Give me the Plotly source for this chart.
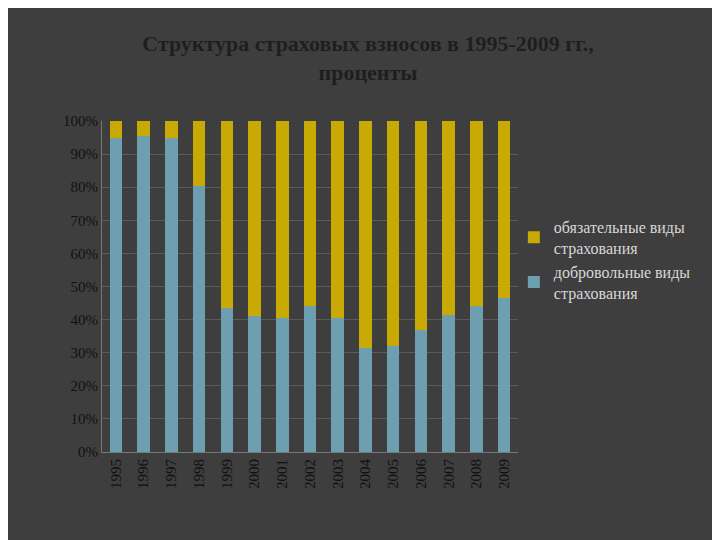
import plotly.graph_objects as go

years = [str(y) for y in range(1995, 2010)]
voluntary = [95, 95.5, 95, 80.5, 43.5, 41, 40.5, 44, 40.5, 31.5, 32, 37, 41.5, 44, 46.5]
mandatory = [100 - v for v in voluntary]

font = "Liberation Serif"
fig = go.Figure()
fig.add_bar(x=years, y=voluntary, name="добровольные виды<br>страхования",
            marker_color="#6e9fb0", marker_line_width=0)
fig.add_bar(x=years, y=mandatory, name="обязательные виды<br>страхования",
            marker_color="#c9a904", marker_line_width=0)

fig.update_layout(
    barmode="stack", bargap=0.55,
    width=720, height=540,
    margin=dict(l=94, r=210, t=113, b=96),
    paper_bgcolor="#3e3e3e", plot_bgcolor="rgba(0,0,0,0)",
    font=dict(family=font, color="#d8d8d8", size=15),
    title=dict(text="<b>Структура страховых взносов в 1995-2009 гг.,<br>проценты</b>",
               x=0.5, xanchor="center", y=0.92, font=dict(size=22, color="#1e1e1e")),
    legend=dict(x=0.99, y=0.58, xanchor="left", yanchor="middle",
                traceorder="reversed", font=dict(size=16, color="#d8d8d8"),
                bgcolor="rgba(0,0,0,0)"),
    xaxis=dict(tickangle=-90, showgrid=False, showline=True, linecolor="#777",
               tickfont=dict(size=15, color="#111")),
    yaxis=dict(range=[0, 100], dtick=10, ticksuffix="%", gridcolor="#5a5a5a",
               showline=True, linecolor="#777", zeroline=False,
               tickfont=dict(size=15, color="#111")),
)
fig.write_html("out.html")
